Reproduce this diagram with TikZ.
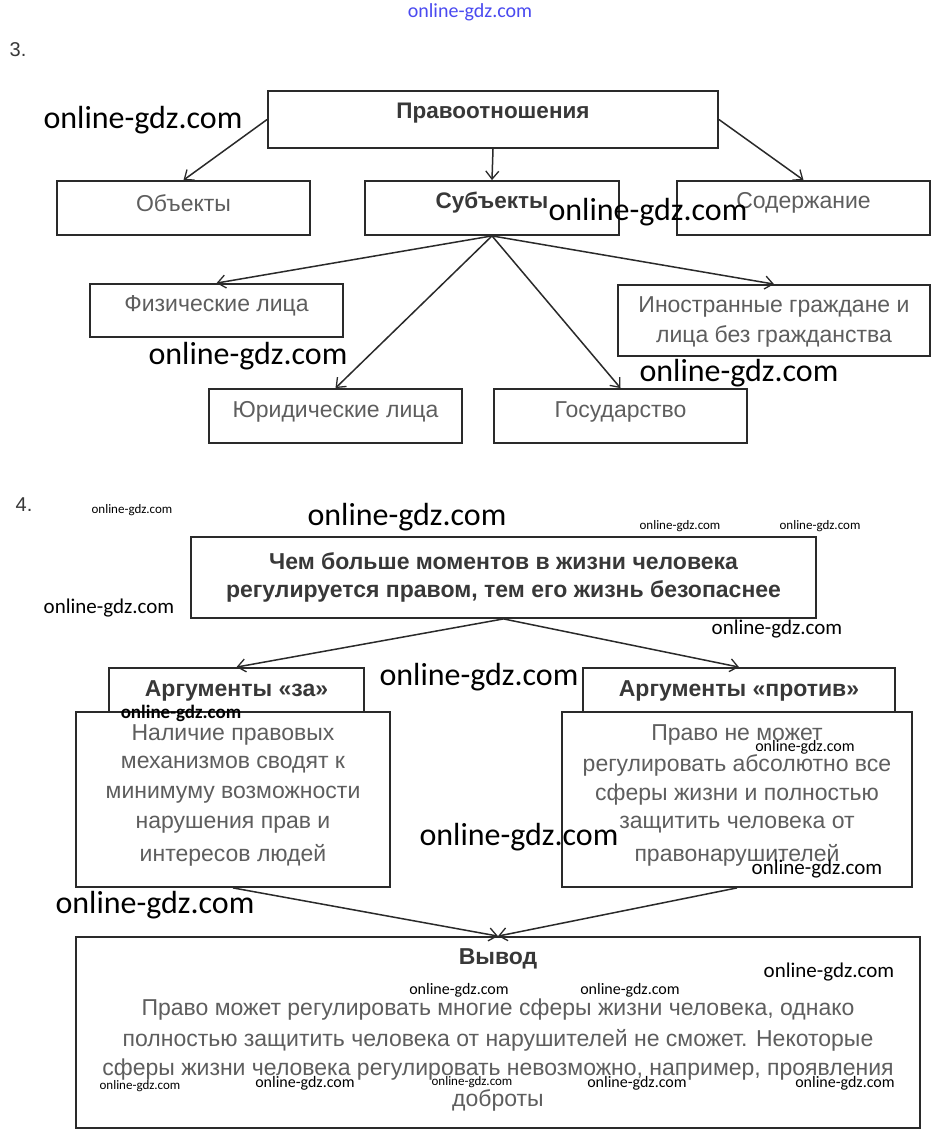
\documentclass[tikz,border=0pt]{standalone}
\usepackage{fontspec}
\setmainfont{Liberation Sans}
\newfontfamily\wmfont{Carlito}
\usetikzlibrary{arrows.meta}
\definecolor{txtgray}{HTML}{5E5E5E}
\definecolor{txtdark}{HTML}{383838}
\definecolor{linec}{HTML}{2A2A2A}
\definecolor{wmblue}{HTML}{4A4AF0}
\begin{document}
\begin{tikzpicture}[x=1pt,y=-1pt,
  box/.style={draw=linec, line width=1.8pt, fill=white, inner sep=0pt},
  conn/.style={draw=linec, line width=1.5pt, -{Straight Barb[length=8pt,width=13pt,line width=1.3pt]}},
  tthree/.style={font=\fontsize{23}{28}\selectfont, text=txtgray, inner sep=0pt, yshift=-2pt},
  tthreeb/.style={font=\fontsize{22.5}{28}\selectfont\bfseries, text=txtdark, inner sep=0pt, yshift=-2pt},
  tfour/.style={font=\fontsize{23}{30}\selectfont, text=txtgray, inner sep=0pt, yshift=-2pt},
  tfourb/.style={font=\fontsize{23}{30}\selectfont\bfseries, text=txtdark, inner sep=0pt, yshift=-2pt},
  numlab/.style={font=\fontsize{20}{24}\selectfont, text=txtdark, inner sep=0pt},
  wmbig/.style={font=\wmfont\fontsize{32}{34}\selectfont, text=black, inner sep=0pt},
  wmmid/.style={font=\wmfont\fontsize{21}{23}\selectfont, text=black, inner sep=0pt},
  wmsm/.style={font=\wmfont\fontsize{16}{18}\selectfont, text=black, inner sep=0pt},
  wmxs/.style={font=\wmfont\fontsize{13}{15}\selectfont, text=black, inner sep=0pt}
]
\useasboundingbox[fill=white] (0,0) rectangle (940,1138);

% ---------- Section 3 ----------
\node[numlab] (n3) at (18,50) {3.};
\node[box, minimum width=450pt, minimum height=57pt] (pr) at (493,119.5) {};
\node[box, minimum width=253pt, minimum height=54pt] (obj) at (183.5,208) {};
\node[box, minimum width=254pt, minimum height=54pt] (sub) at (492,208) {};
\node[box, minimum width=253pt, minimum height=54pt] (sod) at (803.5,208) {};
\node[box, minimum width=253pt, minimum height=53pt] (fiz) at (216.5,310.5) {};
\node[box, minimum width=312pt, minimum height=71pt] (ino) at (774,320.5) {};
\node[box, minimum width=253pt, minimum height=54pt] (yur) at (335.5,416) {};
\node[box, minimum width=253pt, minimum height=54pt] (gos) at (620.5,416) {};

\node[tthreeb] (tpr) at (493,111) {Правоотношения};
\node[tthree] (tobj) at (183.5,201) {Объекты};
\node[tthreeb] (tsub) at (492,201) {Субъекты};
\node[tthree] (tsod) at (803.5,201) {Содержание};
\node[tthree] (tfiz) at (216.5,304) {Физические лица};
\node[tthree] (tino1) at (774,305) {Иностранные граждане и};
\node[tthree] (tino2) at (774,334) {лица без гражданства};
\node[tthree] (tyur) at (335.5,410) {Юридические лица};
\node[tthree] (tgos) at (620.5,410) {Государство};

\draw[conn] (pr.west) -- (obj.north);
\draw[conn] (pr.south) -- (sub.north);
\draw[conn] (pr.east) -- (sod.north);
\draw[conn] (sub.south) -- (fiz.north);
\draw[conn] (sub.south) -- (yur.north);
\draw[conn] (sub.south) -- (gos.north);
\draw[conn] (sub.south) -- (ino.north);

% ---------- Section 4 ----------
\node[numlab] (n4) at (24,505) {4.};
\node[box, minimum width=625pt, minimum height=81pt] (main) at (503.5,577.5) {};
\node[tfourb] (tm1) at (503.5,559) {Чем больше моментов в жизни человека};
\node[tfourb] (tm2) at (503.5,589) {регулируется правом, тем его жизнь безопаснее};

\node[box, minimum width=255pt, minimum height=52pt] (za) at (236.5,694) {};
\node[box, minimum width=312pt, minimum height=52pt] (pv) at (739,694) {};
\node[tfourb] (tza) at (236.5,689) {Аргументы «за»};
\node[tfourb] (tpv) at (739,689) {Аргументы «против»};

\node[box, minimum width=314pt, minimum height=175pt] (lb) at (233,799.5) {};
\node[box, minimum width=350pt, minimum height=175pt] (rb) at (737,799.5) {};
\node[tfour] (l1) at (233,733) {Наличие правовых};
\node[tfour] (l2) at (233,763) {механизмов сводят к};
\node[tfour] (l3) at (233,793) {минимуму возможности};
\node[tfour] (l4) at (233,823) {нарушения прав и};
\node[tfour] (l5) at (233,853) {интересов людей};
\node[tfour] (r1) at (737,733) {Право не может};
\node[tfour] (r2) at (737,763) {регулировать абсолютно все};
\node[tfour] (r3) at (737,793) {сферы жизни и полностью};
\node[tfour] (r4) at (737,823) {защитить человека от};
\node[tfour] (r5) at (737,853) {правонарушителей};

\node[box, minimum width=844pt, minimum height=191pt] (vy) at (498,1032.5) {};
\node[tfourb] (tvy) at (498,957) {Вывод};
\node[tfour] (v1) at (498,1008) {Право может регулировать многие сферы жизни человека, однако};
\node[tfour] (v2) at (498,1038) {полностью защитить человека от нарушителей не сможет. Некоторые};
\node[tfour] (v3) at (498,1068) {сферы жизни человека регулировать невозможно, например, проявления};
\node[tfour] (v4) at (498,1098) {доброты};

\draw[conn] (main.south) -- (za.north);
\draw[conn] (main.south) -- (pv.north);
\draw[conn] (lb.south) -- (vy.north);
\draw[conn] (rb.south) -- (vy.north);

% ---------- Watermarks ----------
\node[font=\wmfont\fontsize{20}{22}\selectfont, text=wmblue, inner sep=0pt] (w0) at (470,12) {online-gdz.com};
\node[wmbig] (w1) at (143,120) {online-gdz.com};
\node[wmbig] (w2) at (648,212) {online-gdz.com};
\node[wmbig] (w3) at (248,356) {online-gdz.com};
\node[wmbig] (w4) at (739,373) {online-gdz.com};
\node[wmxs] (w5) at (132,510) {online-gdz.com};
\node[wmbig] (w6) at (407,517) {online-gdz.com};
\node[wmxs] (w7) at (680,526) {online-gdz.com};
\node[wmxs] (w8) at (820,526) {online-gdz.com};
\node[wmmid] (w9) at (109,608) {online-gdz.com};
\node[wmmid] (w10) at (777,629) {online-gdz.com};
\node[wmbig] (w11) at (479,677) {online-gdz.com};
\node[font=\wmfont\fontsize{19}{21}\selectfont\bfseries, text=black, inner sep=0pt] (w12) at (181,713) {online-gdz.com};
\node[wmsm] (w13) at (805,747) {online-gdz.com};
\node[wmbig] (w14) at (519,837) {online-gdz.com};
\node[wmmid] (w15) at (817,869) {online-gdz.com};
\node[wmbig] (w16) at (155,905) {online-gdz.com};
\node[wmmid] (w17) at (829,972) {online-gdz.com};
\node[wmsm] (w18) at (459,990) {online-gdz.com};
\node[wmsm] (w19) at (630,990) {online-gdz.com};
\node[wmxs] (w20) at (140,1086) {online-gdz.com};
\node[wmsm] (w21) at (305,1083) {online-gdz.com};
\node[wmxs] (w22) at (472,1082) {online-gdz.com};
\node[wmsm] (w23) at (637,1083) {online-gdz.com};
\node[wmsm] (w24) at (845,1083) {online-gdz.com};
\end{tikzpicture}
\end{document}
